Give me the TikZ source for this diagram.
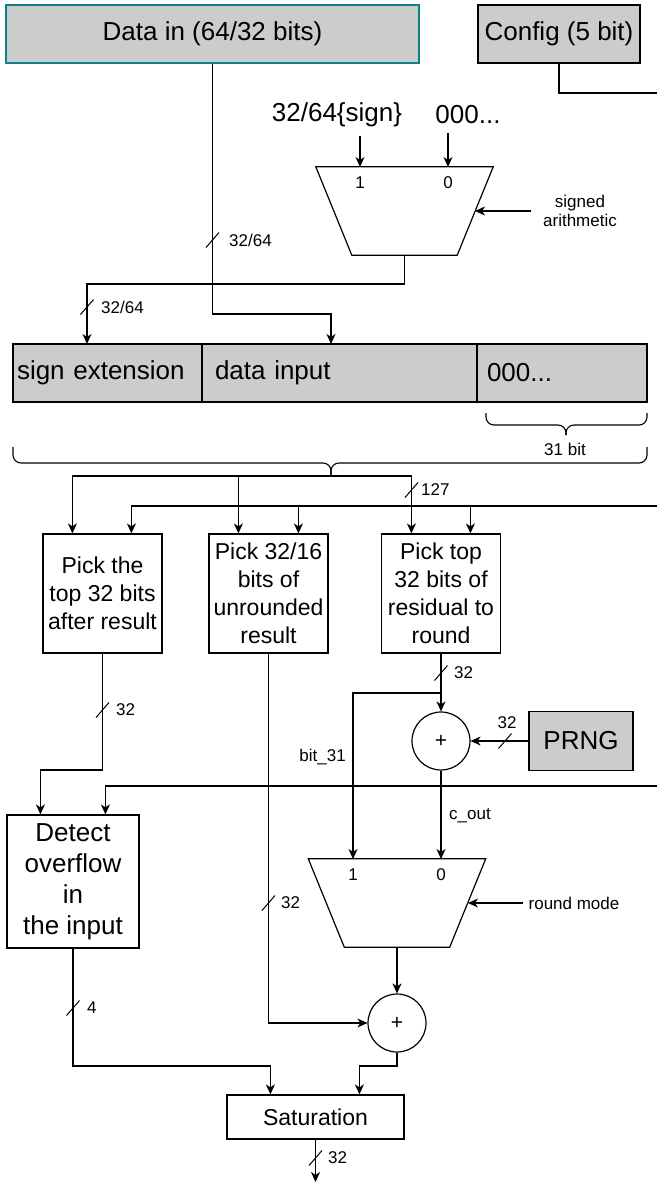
\documentclass[tikz,border=0pt]{standalone}
\usepackage{fontspec}
\setmainfont{Liberation Sans}
\usetikzlibrary{arrows.meta,calc}
\definecolor{gfill}{HTML}{CCCCCC}
\definecolor{tealb}{HTML}{0E8088}
\newcommand\FontBig{\fontsize{26}{31}\selectfont}
\newcommand\FontMid{\fontsize{23}{28}\selectfont}
\newcommand\FontSmall{\fontsize{17}{19}\selectfont}
\newcommand\FontPlus{\fontsize{21}{24}\selectfont}
\begin{document}
\begin{tikzpicture}[x=1pt,y=-1pt,
  wire/.style={line width=1.1pt},
  arr/.style={-{Stealth[length=10pt,width=9pt,inset=3pt]}},
  box/.style={draw, line width=1.2pt, inner sep=0pt, align=center, font=\FontMid},
  gbox/.style={box, fill=gfill},
  lbl/.style={font=\FontSmall, inner sep=1pt},
  adder/.style={circle, draw, line width=1.2pt, minimum size=58pt, inner sep=0pt, font=\FontPlus},
  shapeline/.style={line width=1.2pt, line join=miter},
  brc/.style={line width=1.1pt, rounded corners=8pt},
  busmark/.pic={\draw[line width=1pt] (-6.5,7.5) -- (6.5,-7.5);}
]
\useasboundingbox (0,0) rectangle (657,1186);

% ---------- top ----------
\node[gbox, draw=tealb, minimum width=413pt, minimum height=58pt, font=\FontBig] (data) at (212.5,34) {Data in (64/32 bits)};
\node[gbox, minimum width=162pt, minimum height=58pt, font=\FontBig] (config) at (559,34) {Config (5 bit)};
\coordinate (cfgA) at (657,93);
\draw[wire] (config.south) |- (cfgA);

\node[font=\FontBig, inner sep=0pt] (sgn) at (337,115) {32/64\{sign\}};
\node[font=\FontBig, inner sep=0pt] (zer) at (468,115) {000...};

% mux 1
\node[minimum width=177pt, minimum height=88pt, inner sep=0pt] (mux1) at (404.5,211) {};
\draw[shapeline] (mux1.north west) -- (mux1.north east) -- ($(mux1.south east)+(-36,0)$) -- ($(mux1.south west)+(36,0)$) -- cycle;
\coordinate (m1i1) at (360,167);
\coordinate (m1i0) at (448,167);
\coordinate (m1r) at (475,211);
\draw[wire,arr,shorten <=9pt] (sgn.south -| m1i1) -- (m1i1);
\draw[wire,arr,shorten <=9pt] (zer.south -| m1i0) -- (m1i0);
\node[lbl] (m1l1) at (360,183) {1};
\node[lbl] (m1l0) at (448,183) {0};
\node[lbl, align=center, inner xsep=12pt] (sa) at (580,211) {signed\\arithmetic};
\draw[wire,arr] (sa.west) -- (m1r);

% extended word
\node[gbox, minimum width=189pt, minimum height=58pt, inner xsep=4pt, text width=181pt, align=left, font=\FontBig] (seg1) at (107.5,373) {sign extension};
\node[gbox, minimum width=275pt, minimum height=58pt, inner xsep=13pt, text width=249pt, align=left, font=\FontBig] (seg2) at (339.5,373) {data input};
\node[gbox, minimum width=170pt, minimum height=58pt, inner xsep=10pt, text width=150pt, align=left, font=\FontBig] (seg3) at (562,373) {000...};

\coordinate (s1in) at (87,344);
\coordinate (s2in) at (331,344);
\coordinate (j1) at (404.5,284);
\coordinate (j2) at (212.5,314);
\draw[wire,arr] (mux1.south) -- (j1) -| (s1in);
\draw[wire,arr] (data.south) -- (j2) -| (s2in);
\pic at (87,307) {busmark};
\node[lbl, anchor=west] (l3264a) at (100,307) {32/64};
\pic at (212.5,240) {busmark};
\node[lbl, anchor=west] (l3264b) at (228,240) {32/64};

% braces
\draw[brc] (486,413) -- (486,425) -- (566,425) -- (566,435);
\draw[brc] (647,413) -- (647,425) -- (566,425) -- (566,435);
\node[lbl] (l31) at (565,449) {31 bit};
\draw[brc] (13,447) -- (13,463) -- (331,463) -- (331,475);
\draw[brc] (647,447) -- (647,463) -- (331,463) -- (331,475);
\coordinate (btip) at (331,475);
\coordinate (split) at (331,476);
\draw[wire] (btip) -- (split);

% pick boxes
\node[box, minimum width=119pt, minimum height=119pt] (b1) at (102.5,593.5) {Pick the\\top 32 bits\\after result};
\node[box, minimum width=119pt, minimum height=119pt] (b2) at (268.5,593.5) {Pick 32/16\\bits of\\unrounded\\result};
\node[box, minimum width=119pt, minimum height=119pt] (b3) at (441,593.5) {Pick top\\32 bits of\\residual to\\round};
\coordinate (b1a) at ($(b1.north west)+(30,0)$);
\coordinate (b1b) at ($(b1.north west)+(89,0)$);
\coordinate (b2a) at ($(b2.north west)+(30,0)$);
\coordinate (b2b) at ($(b2.north west)+(90,0)$);
\coordinate (b3a) at ($(b3.north west)+(30.5,0)$);
\coordinate (b3b) at ($(b3.north west)+(89.5,0)$);
\draw[wire,arr] (split) -| (b1a);
\draw[wire,arr] (split) -| (b3a);
\draw[wire,arr] (b2a |- split) -- (b2a);
\pic at (411.5,490) {busmark};
\node[lbl, anchor=west] (l127) at (420,490) {127};
\coordinate (cfgB) at (657,506);
\draw[wire,arr] (cfgB) -| (b1b);
\draw[wire,arr] (b2b |- cfgB) -- (b2b);
\draw[wire,arr] (b3b |- cfgB) -- (b3b);

% detect overflow
\node[box, minimum width=132pt, minimum height=133pt, font=\FontBig] (det) at (73,881.5) {Detect\\overflow\\in\\the input};
\coordinate (d1) at ($(det.north west)+(34,0)$);
\coordinate (d2) at ($(det.north west)+(99,0)$);
\coordinate (j3) at (102.5,770);
\draw[wire,arr] (b1.south) -- (j3) -| (d1);
\pic at (102.5,710) {busmark};
\node[lbl, anchor=west] (l32a) at (115,710) {32};
\coordinate (cfgC) at (657,786);
\draw[wire,arr] (cfgC) -| (d2);

% rounding
\node[adder] (add1) at (441,741) {+};
\draw[wire,arr] (b3.south) -- (add1.north);
\pic at (441,673) {busmark};
\node[lbl, anchor=west] (l32b) at (453,673) {32};
\node[gbox, minimum width=104pt, minimum height=59pt, font=\FontBig] (prng) at (581,741) {PRNG};
\draw[wire,arr] (prng.west) -- (add1.east);
\pic at (505,741) {busmark};
\node[lbl] (l32c) at (507,723) {32};

\node[minimum width=177pt, minimum height=88pt, inner sep=0pt] (mux2) at (397,903) {};
\draw[shapeline] (mux2.north west) -- (mux2.north east) -- ($(mux2.south east)+(-36,0)$) -- ($(mux2.south west)+(36,0)$) -- cycle;
\coordinate (m2i1) at (353,859);
\coordinate (m2i0) at (441,859);
\coordinate (m2r) at (468,903);
\coordinate (j4) at (441,693);
\draw[wire,arr] (j4) -| (m2i1);
\draw[wire,arr] (add1.south) -- (m2i0);
\node[lbl, anchor=east] (lb31) at (347,757) {bit\_31};
\node[lbl] (lcout) at (470,816) {c\_out};
\node[lbl] (m2l1) at (353,875) {1};
\node[lbl] (m2l0) at (441,875) {0};
\node[lbl, inner xsep=5pt] (rm) at (574,903) {round mode};
\draw[wire,arr] (rm.west) -- (m2r);

\node[adder] (add2) at (397,1023) {+};
\draw[wire,arr] (mux2.south) -- (add2.north);
\draw[wire,arr] (b2.south) |- (add2.west);
\pic at (268.5,903) {busmark};
\node[lbl, anchor=west] (l32d) at (280,903) {32};

% saturation
\node[box, minimum width=177pt, minimum height=44pt] (sat) at (315.5,1117) {Saturation};
\coordinate (sa1) at ($(sat.north west)+(44,0)$);
\coordinate (sa2) at ($(sat.north west)+(133,0)$);
\coordinate (j5) at (73,1066);
\coordinate (j6) at (397,1066);
\draw[wire,arr] (det.south) -- (j5) -| (sa1);
\draw[wire,arr] (add2.south) -- (j6) -| (sa2);
\pic at (73,1008) {busmark};
\node[lbl, anchor=west] (l4) at (86,1008) {4};
\coordinate (out) at (315.5,1182);
\draw[wire,arr] (sat.south) -- (out);
\pic at (315.5,1158) {busmark};
\node[lbl, anchor=west] (l32e) at (327,1158) {32};
\end{tikzpicture}
\end{document}
